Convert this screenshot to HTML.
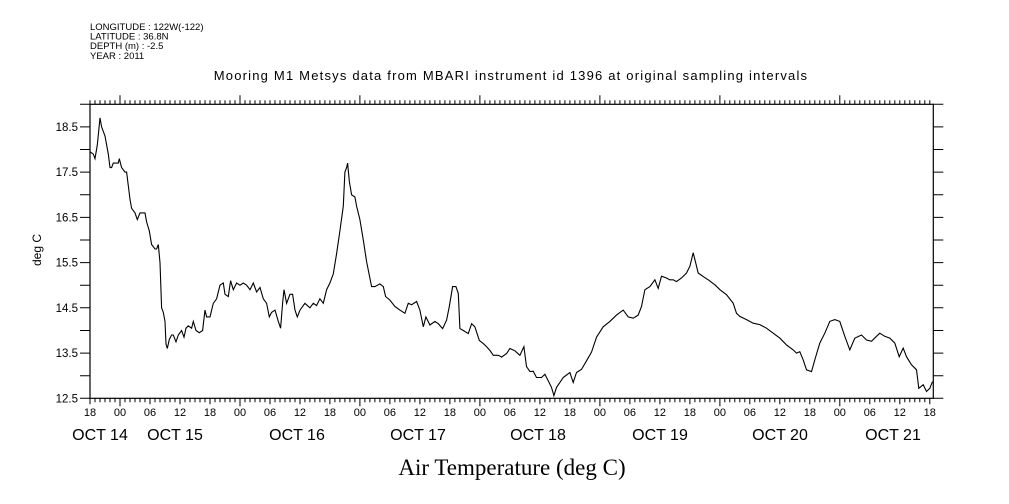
<!DOCTYPE html>
<html><head><meta charset="utf-8"><style>
body{margin:0;background:#fff;width:1009px;height:504px;overflow:hidden}
svg{display:block}
text{font-family:"Liberation Sans",sans-serif;fill:#000}
</style></head><body>
<svg id="chart" width="1009" height="504" viewBox="0 0 1009 504" xmlns="http://www.w3.org/2000/svg">
<g font-size="9.5">
<text x="90" y="30">LONGITUDE : 122W(-122)</text>
<text x="90" y="39.5">LATITUDE : 36.8N</text>
<text x="90" y="49">DEPTH (m) : -2.5</text>
<text x="90" y="59">YEAR : 2011</text>
</g>
<text x="511" y="80" text-anchor="middle" font-size="13" letter-spacing="1.2">Mooring M1 Metsys data from MBARI instrument id 1396 at original sampling intervals</text>
<text transform="translate(41,250) rotate(-90)" text-anchor="middle" font-size="12">deg C</text>
<text x="512" y="475" text-anchor="middle" font-size="23" style="font-family:'Liberation Serif',serif">Air Temperature (deg C)</text>
<g id="axes"></g>
<g id="series"></g>
</svg>
<script>
const times=[0,0.67,1,1.47,2,2.33,3,3.67,4,4.33,4.67,5.67,5.87,6.33,7,7.33,7.67,8,8.33,9,9.47,10,10.53,11,11.33,11.87,12.33,13,13.33,13.67,14,14.33,14.67,15,15.2,15.47,15.87,16.33,16.67,17.2,17.67,18.33,18.8,19.2,19.67,20.33,20.67,21.2,21.87,22.53,23,23.33,24,24.67,25.33,26,26.67,27,27.67,28.13,28.67,29.33,30,30.67,31.33,32,32.67,33.33,34,34.67,35.33,35.87,36.33,37,37.67,38.13,38.53,38.8,39.33,40,40.53,41,41.47,42,43,44,44.67,45.33,46,46.67,47.33,48,48.67,49.33,50,50.67,51,51.33,51.53,51.87,52.33,53,53.33,54,
54.67,55.33,56.33,57,58,58.67,59.13,60,61,62,63,63.67,64.33,65.33,66,66.67,67.2,68,69,69.67,70.53,71.33,71.87,72.53,73.2,73.67,74,74.67,75.67,76.33,77,77.87,78.67,79.33,80,80.67,81.67,82.33,83.33,84,85,86,86.8,87.33,88,88.67,89.33,90.33,91,91.67,92.33,92.8,93.33,94,94.67,96,96.67,97.33,98.33,99.33,100.33,101.33,102.67,104,105.33,106.67,107.67,108.67,109.67,110.33,111,112,113,113.67,114.33,115.33,116,116.67,117.33,118.33,119.33,120,120.67,121.67,122.67,123.67,125,126,
127.33,128.67,129.33,130,131.33,132.67,134,135.33,136.67,138,139.33,140.67,141.33,142,142.67,143.33,144.33,145,146,147,148,149,150,151,152,153,154.33,155.33,156.33,157.33,158,159,160,161,161.87,162.67,163.33,164.33,165.33,165.8,166.67,167.33,168,168.53];
const temps=[17.95,17.9,17.8,18.1,18.7,18.5,18.3,17.9,17.6,17.6,17.7,17.7,17.8,17.6,17.5,17.5,17.2,16.9,16.7,16.6,16.45,16.6,16.6,16.6,16.4,16.2,15.9,15.8,15.8,15.9,15.5,14.5,14.4,14.2,13.7,13.6,13.8,13.9,13.9,13.75,13.9,14.0,13.85,14.05,14.1,14.05,14.2,14.0,13.95,14.0,14.45,14.3,14.3,14.6,14.7,15.0,15.05,14.8,14.75,15.1,14.9,15.05,15.0,15.05,15.0,14.9,15.05,14.85,14.95,14.7,14.6,14.3,14.4,14.45,14.2,14.05,14.6,14.9,14.6,14.8,14.8,14.45,14.3,14.45,14.6,14.5,14.6,14.55,14.7,14.6,14.9,15.05,15.25,15.7,16.2,16.75,17.5,17.6,17.7,17.3,17.0,16.95,16.75,16.45,
16.0,15.52,14.97,14.97,15.03,14.97,14.75,14.67,14.53,14.45,14.38,14.6,14.57,14.64,14.45,14.08,14.3,14.12,14.2,14.15,14.04,14.23,14.53,14.97,14.97,14.82,14.04,14.0,13.93,14.15,14.08,13.78,13.71,13.64,13.56,13.45,13.45,13.41,13.49,13.6,13.55,13.45,13.64,13.2,13.09,13.1,12.96,12.96,13.03,12.89,12.74,12.56,12.74,12.85,12.96,13.07,12.85,13.07,13.14,13.33,13.52,13.85,14.08,14.2,14.34,14.45,14.3,14.27,14.34,14.53,14.9,14.97,15.12,14.93,15.2,15.16,15.12,15.12,15.08,15.16,15.27,15.42,15.72,15.27,15.19,15.12,15.01,14.9,
14.79,14.6,14.38,14.31,14.24,14.16,14.13,14.05,13.94,13.83,13.68,13.57,13.5,13.53,13.35,13.13,13.09,13.35,13.72,13.94,14.2,14.24,14.2,13.87,13.57,13.83,13.9,13.79,13.76,13.87,13.94,13.87,13.83,13.72,13.42,13.61,13.42,13.24,13.13,12.72,12.8,12.65,12.72,12.87];
const yTicks=[12.5,13.5,14.5,15.5,16.5,17.5,18.5];
const hourLabels=["18","00","06","12","18","00","06","12","18","00","06","12","18","00","06","12","18","00","06","12","18","00","06","12","18","00","06","12","18"];
const dayLabels=["OCT 14","OCT 15","OCT 16","OCT 17","OCT 18","OCT 19","OCT 20","OCT 21"];
const dayLabelPos=[100,175,297,418,538,660,780,893];

const L=90,R=933.3,T=104.3,B=398.3,TMAX=168.7,YMIN=12.5,YMAX=19.0;
const sx=t=>L+(t/TMAX)*(R-L);
const sy=v=>B-(v-YMIN)/(YMAX-YMIN)*(B-T);
const NS='http://www.w3.org/2000/svg';
const axes=document.getElementById('axes');
function mk(tag,attrs,parent){const e=document.createElementNS(NS,tag);for(const k in attrs)e.setAttribute(k,attrs[k]);parent.appendChild(e);return e;}
const frame=mk('rect',{x:L,y:T,width:R-L,height:B-T,fill:'none',stroke:'#000','stroke-width':1.2},axes);


let d='';
for(let h=0;h<=168;h++){const x=sx(h).toFixed(1);const day=(h%24===6);const six=(h%6===0);
 d+=`M${x} ${T}V${T-(day?9:4)}`;
 d+=`M${x} ${B}V${B+(day?8:(six?6:4))}`;}
for(let v=12.5;v<=19.01;v+=0.5){const y=sy(v).toFixed(1);d+=`M${L} ${y}H${L-10}M${R} ${y}H${R+10}`;}
const ticks=mk('path',{d:d,stroke:'#000','stroke-width':1,fill:'none'},axes);


yTicks.forEach(v=>{const t=mk('text',{x:L-12,y:sy(v)+4,'text-anchor':'end','font-size':11.5},axes);t.textContent=v.toFixed(1);
 
 });
hourLabels.forEach((s,i)=>{const t=mk('text',{x:sx(i*6),y:416,'text-anchor':'middle','font-size':11},axes);t.textContent=s;
 
 });
dayLabels.forEach((s,i)=>{const t=mk('text',{x:dayLabelPos[i],y:440,'text-anchor':'middle','font-size':16},axes);t.textContent=s;
 
 });
const pts=times.map((t,i)=>sx(t).toFixed(1)+','+sy(temps[i]).toFixed(1)).join(' ');
const line=mk('polyline',{points:pts,fill:'none',stroke:'#000','stroke-width':1.1},document.getElementById('series'));


</script>
</body></html>
